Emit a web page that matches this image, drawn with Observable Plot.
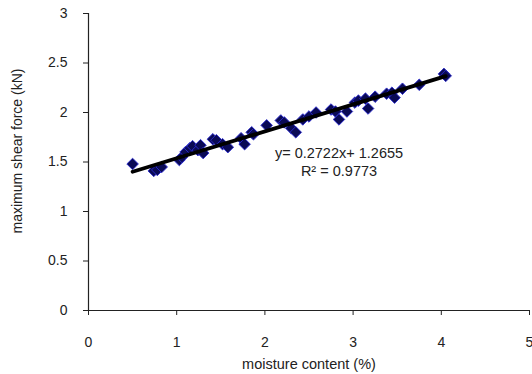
<!DOCTYPE html>
<html>
<head>
<meta charset="utf-8">
<script src="https://cdn.jsdelivr.net/npm/d3@7"></script>
<script src="https://cdn.jsdelivr.net/npm/@observablehq/plot@0.6"></script>
<style>
  html, body { margin: 0; padding: 0; background: #fff; }
  #chart svg { display: block; }
</style>
</head>
<body>
<div id="chart"></div>
<script>
// Measured points: moisture content (%) and maximum shear force (kN)
const moisture = [0.50, 0.74, 0.78, 0.83, 1.03, 1.06, 1.10, 1.15, 1.18, 1.24, 1.27, 1.30, 1.41, 1.45, 1.52, 1.58, 1.73, 1.77, 1.85, 1.87, 2.02, 2.18, 2.22, 2.30, 2.35, 2.43, 2.50, 2.58, 2.75, 2.80, 2.84, 2.93, 3.02, 3.06, 3.14, 3.17, 3.25, 3.38, 3.44, 3.47, 3.56, 3.75, 4.03, 4.05];
const shearForce = [1.48, 1.41, 1.42, 1.45, 1.52, 1.55, 1.60, 1.64, 1.66, 1.62, 1.67, 1.59, 1.73, 1.72, 1.68, 1.65, 1.74, 1.68, 1.80, 1.78, 1.87, 1.92, 1.90, 1.84, 1.80, 1.93, 1.96, 2.00, 2.03, 2.01, 1.93, 2.01, 2.10, 2.12, 2.14, 2.04, 2.16, 2.19, 2.20, 2.15, 2.24, 2.28, 2.39, 2.37];

// Linear trend line endpoints (y = 0.2722x + 1.2655)
const trendX = [0.5, 4.05];
const trendY = [1.4016, 2.3679];

// Annotation
const annX = [2.84];
const annY = [1.36];
const annText = ["y= 0.2722x+ 1.2655\nR² = 0.9773"];

const xTicks = [0, 1, 2, 3, 4, 5];
const yTicks = [0, 0.5, 1, 1.5, 2, 2.5, 3];

const points = moisture.map((m, i) => ({x: m, y: shearForce[i]}));
const trend = trendX.map((t, i) => ({x: t, y: trendY[i]}));
const ann = annX.map((a, i) => ({x: a, y: annY[i], t: annText[i]}));

const font = "'Liberation Sans', Arial, sans-serif";

const chart = Plot.plot({
  width: 532,
  height: 374,
  marginLeft: 88,
  marginRight: 3,
  marginTop: 13,
  marginBottom: 64,
  style: {fontFamily: font, fontSize: "14px", color: "#222", background: "#fff"},
  x: {domain: [0, 5]},
  y: {domain: [0, 3]},
  marks: [
    Plot.axisX({ticks: xTicks, tickSize: 5, tickPadding: 22, tickFormat: d => String(d), label: null, stroke: "#222", fill: "#222"}),
    Plot.axisY({ticks: yTicks, tickSize: 5, tickPadding: 16, tickFormat: d => String(d), label: null, stroke: "#222", fill: "#222"}),
    Plot.ruleY([0], {stroke: "#222", strokeWidth: 1.2}),
    Plot.ruleX([0], {stroke: "#222", strokeWidth: 1.2}),
    Plot.dot(points, {x: "x", y: "y", symbol: "diamond2", r: 5.2, fill: "#0a0a55", stroke: "#2a2ad0", strokeWidth: 0.9}),
    Plot.line(trend, {x: "x", y: "y", stroke: "#000", strokeWidth: 3.8}),
    Plot.text(ann, {x: "x", y: "y", text: "t", textAnchor: "middle", lineAnchor: "bottom", lineHeight: 1.2, fill: "#222", fontSize: 14.5}),
    Plot.text(["moisture content (%)"], {frameAnchor: "bottom", dy: 58, fill: "#222", fontSize: 14.5}),
    Plot.text(["maximum shear force (kN)"], {frameAnchor: "left", textAnchor: "middle", rotate: -90, dx: -71, dy: -11, fill: "#222", fontSize: 14})
  ]
});

document.getElementById("chart").appendChild(chart);
</script>
</body>
</html>
